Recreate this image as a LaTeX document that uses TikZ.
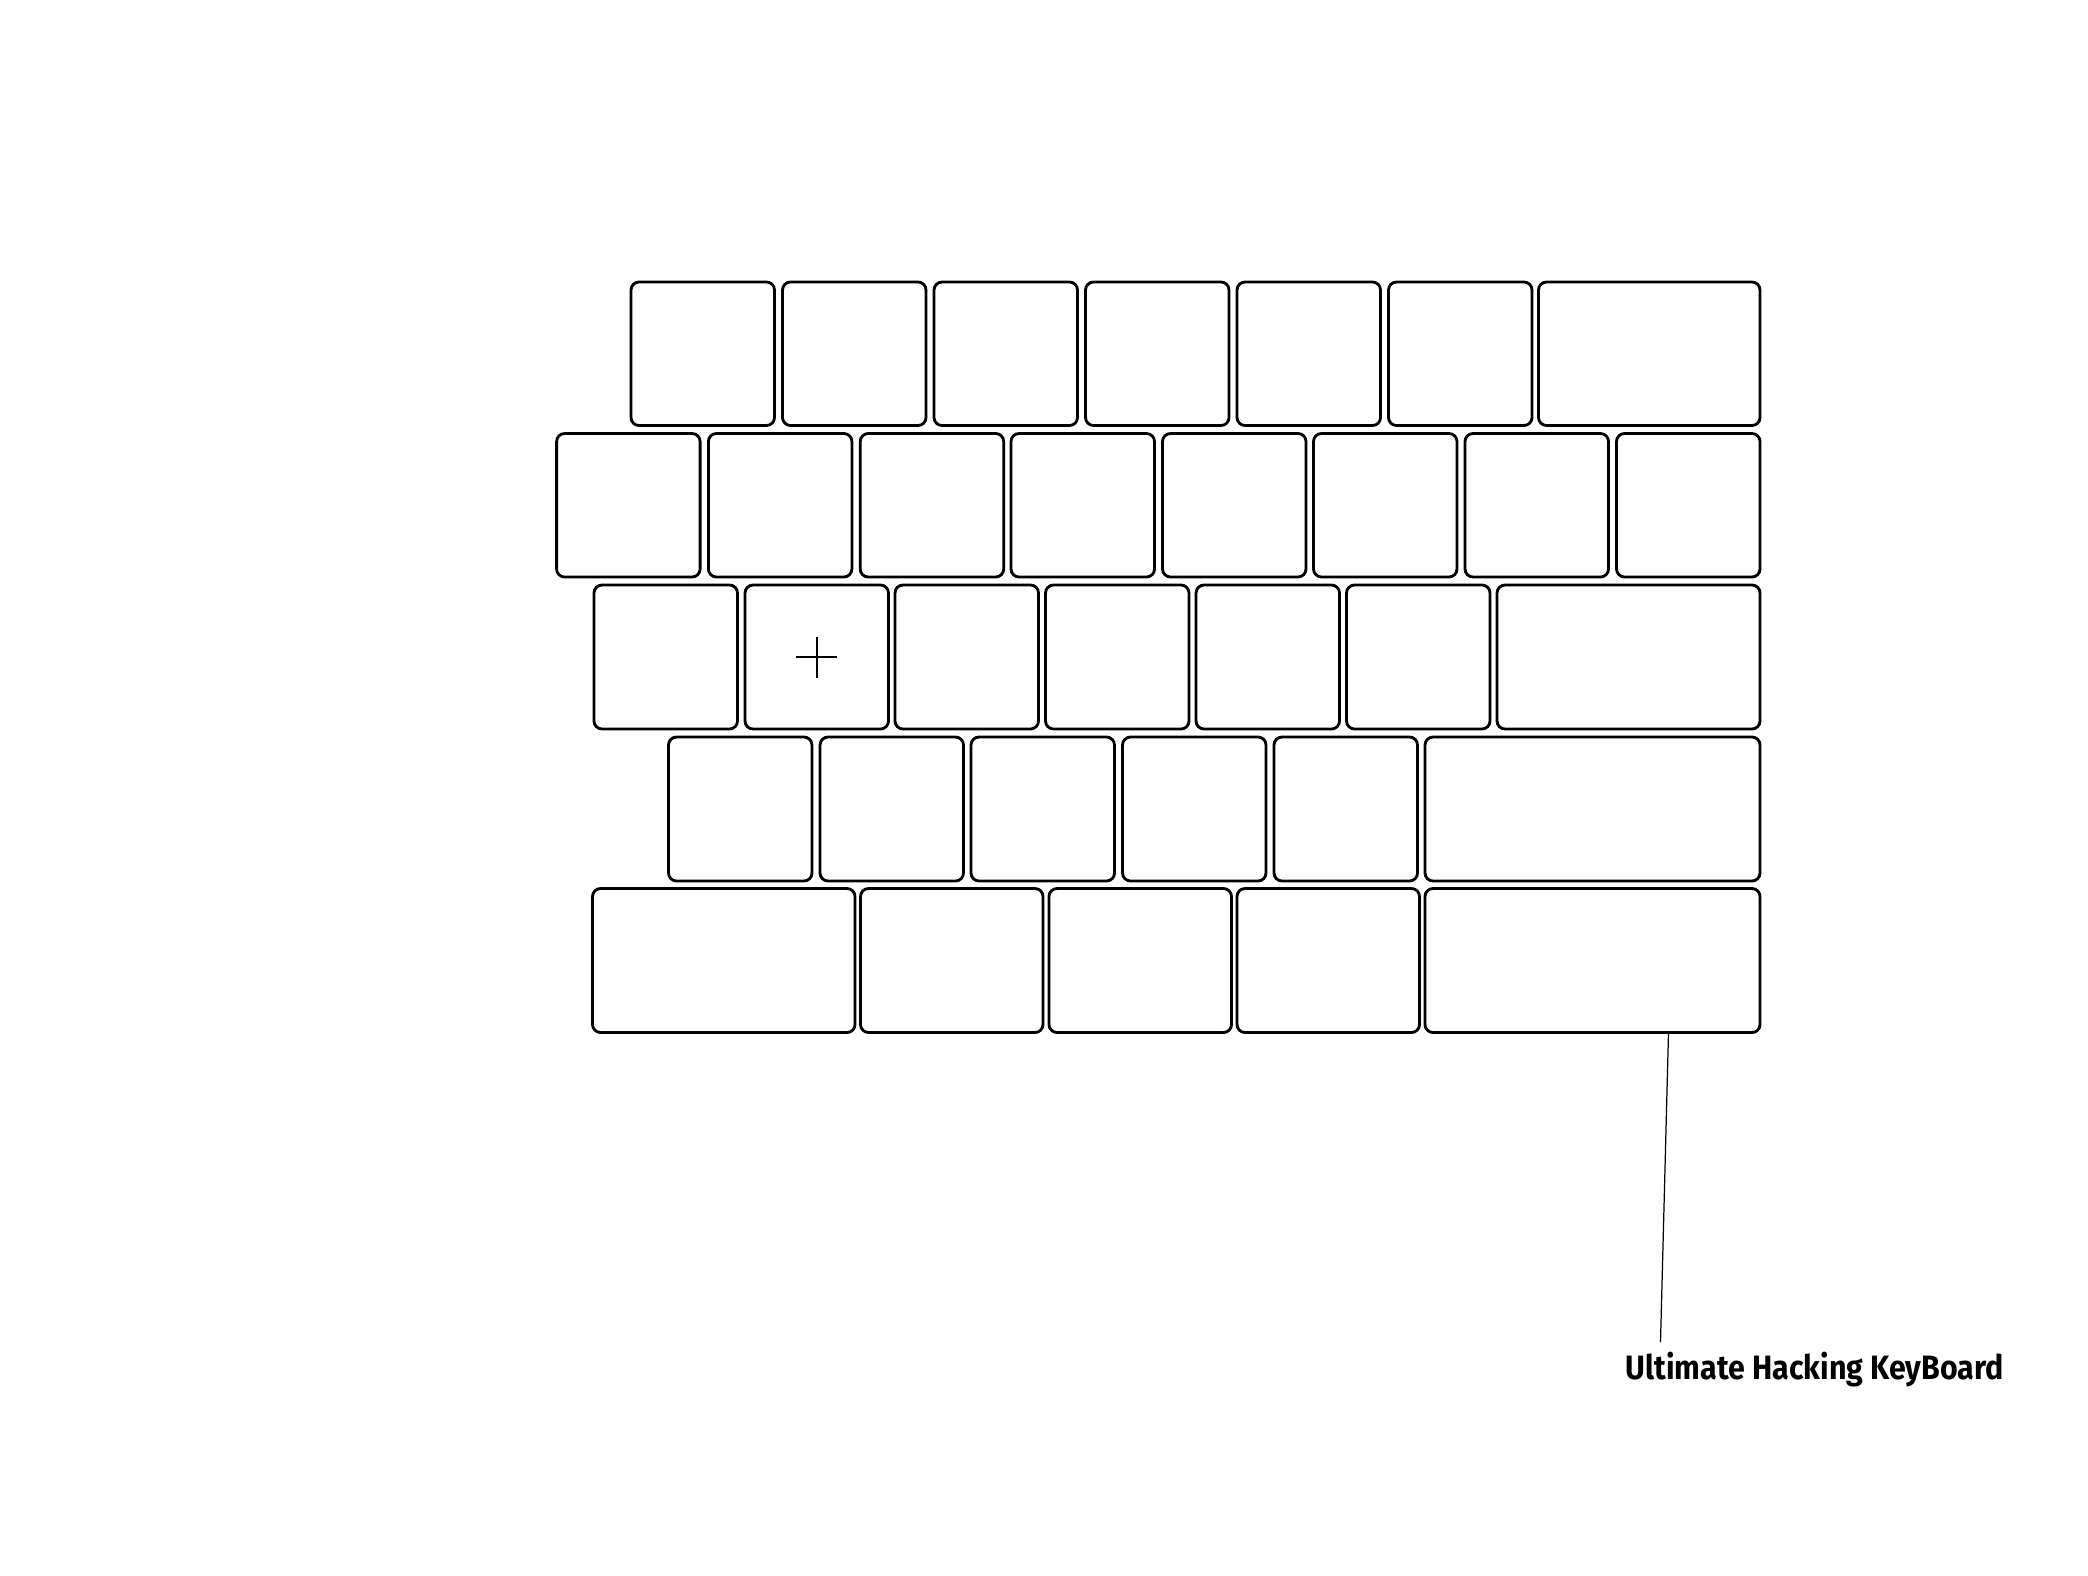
\documentclass[tikz,border=0pt]{standalone}
\usepackage{fontspec}
\setmainfont{Fira Sans}
\newfontfamily\labfont{Fira Sans}[FakeStretch=0.9]
\usetikzlibrary{fit}
\tikzset{
  key/.style={draw=black, line width=0.8pt, rounded corners=0.08cm, inner sep=0pt, fill=white},
  leader/.style={draw=black, line width=0.35pt},
  plusmark/.style={draw=black, line width=0.5pt},
  lab/.style={inner sep=0pt, font=\fontsize{9.6}{11}\labfont\bfseries}
}
\begin{document}
\begin{tikzpicture}[x=0.01cm, y=-0.01cm]
\useasboundingbox (0,0) rectangle (2088,1575);
% Row 1
\foreach \x [count=\i] in {631,782.5,934,1085.5,1237,1388.5} {
  \pgfmathsetmacro\xr{\x+143.5}
  \node[key, fit={(\x,282) (\xr,425.5)}] (ra\i) {};
}
\node[key, fit={(1538.5,282) (1760,425.5)}] (ra7) {};
% Row 2
\foreach \x [count=\i] in {556.6,708.4,860.2,1011,1162.5,1313.5,1465,1616.5} {
  \pgfmathsetmacro\xr{\x+143.5}
  \node[key, fit={(\x,433.5) (\xr,577)}] (rb\i) {};
}
% Row 3
\foreach \x [count=\i] in {594,745,895,1045.5,1196,1346.5} {
  \pgfmathsetmacro\xr{\x+143.5}
  \node[key, fit={(\x,585) (\xr,729)}] (rc\i) {};
}
\node[key, fit={(1497,585) (1760,729)}] (rc7) {};
% Row 4
\foreach \x [count=\i] in {668.5,820,971,1122.5,1274} {
  \pgfmathsetmacro\xr{\x+143.5}
  \node[key, fit={(\x,737) (\xr,881)}] (rd\i) {};
}
\node[key, fit={(1425,737) (1760,881)}] (rd6) {};
% Row 5
\node[key, fit={(592.5,888.5) (855,1032.5)}] (re1) {};
\node[key, fit={(860.5,888.5) (1043,1032.5)}] (re2) {};
\node[key, fit={(1049,888.5) (1231.5,1032.5)}] (re3) {};
\node[key, fit={(1237,888.5) (1419.5,1032.5)}] (re4) {};
\node[key, fit={(1425,888.5) (1760,1032.5)}] (re5) {};
% plus mark in key rc2
\draw[plusmark] ([xshift=-20.5*0.01cm]rc2.center) -- ([xshift=20.5*0.01cm]rc2.center);
\draw[plusmark] ([yshift=20.5*0.01cm]rc2.center) -- ([yshift=-20.5*0.01cm]rc2.center);
% label
\node[lab, anchor=base west] (uhk) at (1625,1379) {Ultimate Hacking KeyBoard};
\coordinate (ltop) at (1668.5,1032.5);
\coordinate (lbot) at (1660.5,1342);
\draw[leader] (ltop) -- (lbot);
\end{tikzpicture}
\end{document}
